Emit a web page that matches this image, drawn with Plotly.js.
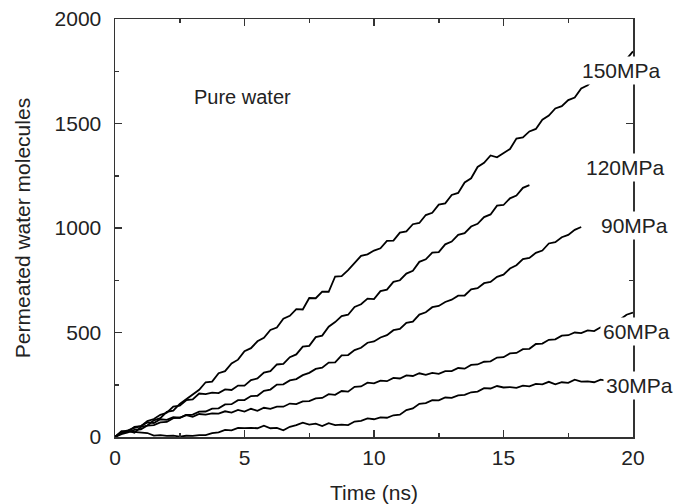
<!DOCTYPE html>
<html>
<head>
<meta charset="utf-8">
<script src="https://cdn.plot.ly/plotly-3.0.1.min.js"></script>
<style>html,body{margin:0;padding:0;background:#fff;}#chart{width:674px;height:504px;}</style>
</head>
<body>
<div id="chart"></div>
<script>
// Time axis (ns), 0.25 ns sampling
const time = [0,0.25,0.5,0.75,1,1.25,1.5,1.75,2,2.25,2.5,2.75,3,3.25,3.5,3.75,4,4.25,4.5,4.75,
  5,5.25,5.5,5.75,6,6.25,6.5,6.75,7,7.25,7.5,7.75,8,8.25,8.5,8.75,9,9.25,9.5,9.75,
  10,10.25,10.5,10.75,11,11.25,11.5,11.75,12,12.25,12.5,12.75,13,13.25,13.5,13.75,14,14.25,14.5,14.75,
  15,15.25,15.5,15.75,16,16.25,16.5,16.75,17,17.25,17.5,17.75,18,18.25,18.5,18.75,19,19.25,19.5,19.75,20];

const p150 = [0,18,30,20,48,55,80,90,120,126,158,180,205,226,262,265,305,315,352,370,
  410,425,458,475,512,524,566,580,612,610,665,664,696,695,768,770,798,833,867,874,
  892,903,938,940,978,984,1018,1024,1062,1073,1112,1118,1158,1168,1218,1238,1292,1312,1347,1338,
  1357,1378,1428,1433,1462,1474,1518,1538,1572,1583,1612,1624,1668,1683,1712,1724,1757,1764,1797,1808,1845];

const p120 = [0,24,32,44,52,76,86,106,116,146,150,176,180,208,205,212,210,228,225,246,
  246,272,280,308,315,347,350,382,395,432,436,478,485,528,550,578,585,622,635,662,
  660,698,705,742,750,782,795,838,850,882,885,922,935,967,975,1007,1020,1052,1065,1107,
  1110,1142,1155,1192,1205];

const p90 = [0,14,22,34,37,55,57,70,72,90,92,106,107,121,122,136,137,156,157,176,
  177,196,197,221,227,251,252,271,277,296,307,326,332,356,357,391,392,416,427,451,
  457,476,487,511,517,546,552,586,597,621,627,646,657,676,677,706,712,736,742,766,
  777,806,822,851,857,881,892,926,932,956,967,991,1005];

const p60 = [0,24,27,49,52,70,67,85,82,95,92,105,97,110,107,113,112,123,117,130,
  122,135,125,140,135,145,145,160,157,170,172,185,187,205,202,220,217,240,242,260,
  257,270,267,283,280,295,292,305,297,307,302,315,315,330,327,345,347,360,362,380,
  382,400,402,420,422,445,447,465,467,485,487,500,497,510,507,525,532,555,562,585,595];

const p30 = [0,28,27,24,22,19,7,9,5,7,2,6,5,9,9,19,22,34,32,44,
  42,44,42,54,42,44,32,49,57,69,59,64,52,66,57,59,57,74,77,89,
  85,94,92,104,107,129,137,159,162,176,175,189,187,199,202,214,217,234,232,244,
  237,239,235,246,242,254,252,264,252,262,259,274,265,266,262,274,269,279,275,284,282];

const seriesNames = ['150MPa','120MPa','90MPa','60MPa','30MPa'];
const seriesValues = [p150, p120, p90, p60, p30];
// label anchor (time, molecules) where each pressure label sits
const labelTime = [17.92, 18.07, 18.65, 18.73, 18.84];
const labelValue = [1755, 1288, 1014, 506, 247];

const traces = seriesValues.map((v, i) => ({
  x: time.slice(0, v.length),
  y: v,
  type: 'scatter',
  mode: 'lines',
  name: seriesNames[i],
  line: {color: '#000', width: 1.8},
  showlegend: false
}));

const font = {family: 'Liberation Sans, Arial, sans-serif', size: 21, color: '#222'};

const annotations = seriesNames.map((n, i) => ({
  x: labelTime[i], y: labelValue[i], xref: 'x', yref: 'y',
  text: n, showarrow: false, xanchor: 'left', yanchor: 'middle',
  bgcolor: '#fff', borderpad: 2, font: font
}));
annotations.push({
  x: 2.99, y: 1626, xref: 'x', yref: 'y', text: 'Pure water',
  showarrow: false, xanchor: 'left', yanchor: 'middle',
  font: {family: font.family, size: 20, color: '#222'}
});

const axisCommon = {
  showline: true, linecolor: '#333', linewidth: 1.5, mirror: 'ticks',
  ticks: 'inside', ticklen: 7, tickwidth: 1.5, tickcolor: '#333',
  showgrid: false, zeroline: false, tickfont: font
};

const layout = {
  width: 674, height: 504,
  margin: {l: 115, r: 41, t: 19, b: 67},
  paper_bgcolor: '#fff', plot_bgcolor: '#fff',
  font: font,
  xaxis: Object.assign({}, axisCommon, {
    range: [0, 20], tickmode: 'linear', tick0: 0, dtick: 5, ticklabelstandoff: 1,
    minor: {tickmode: 'linear', tick0: 0, dtick: 2.5, ticks: 'inside', ticklen: 4, tickwidth: 1.5, tickcolor: '#333', showgrid: false},
    title: {text: 'Time (ns)', font: font, standoff: 20}
  }),
  yaxis: Object.assign({}, axisCommon, {
    range: [0, 2000], tickmode: 'linear', tick0: 0, dtick: 500, ticklabelstandoff: 8,
    minor: {tickmode: 'linear', tick0: 0, dtick: 250, ticks: 'inside', ticklen: 4, tickwidth: 1.5, tickcolor: '#333', showgrid: false},
    title: {text: 'Permeated water molecules', font: font, standoff: 18}
  }),
  annotations: annotations
};

Plotly.newPlot('chart', traces, layout, {displayModeBar: false, staticPlot: true});
</script>
</body>
</html>
